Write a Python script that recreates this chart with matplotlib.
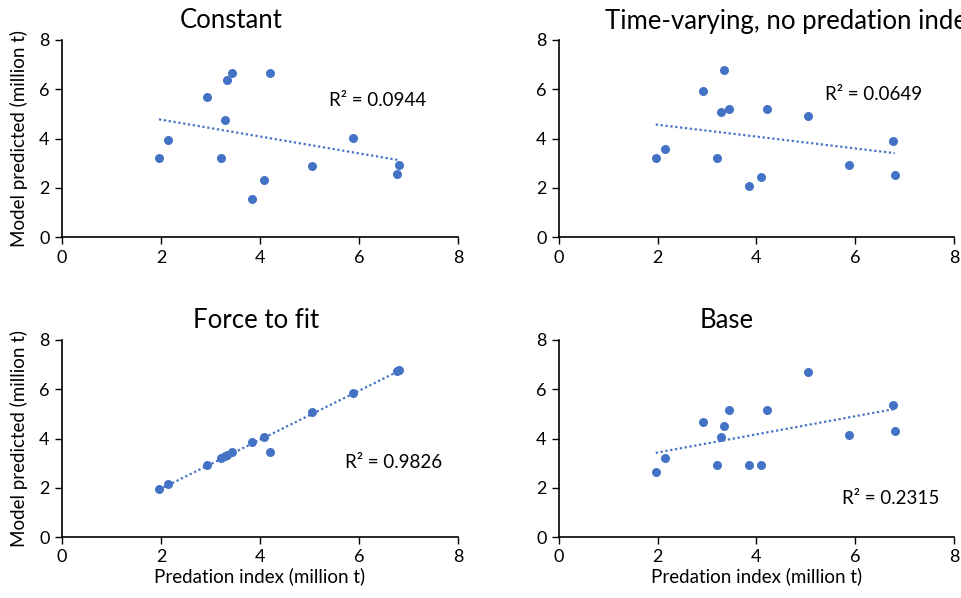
import numpy as np
import matplotlib
matplotlib.use("Agg")
import matplotlib.pyplot as plt

plt.rcParams['font.family'] = ['Lato', 'DejaVu Sans']

# Predation index (million t), shared across panels
predation = [1.96, 2.15, 2.92, 3.21, 3.29, 3.34, 3.44, 3.84, 4.09, 4.21, 5.05, 5.87, 6.76, 6.80]

constant_pred = [3.21, 3.93, 5.69, 3.21, 4.77, 6.37, 6.68, 1.56, 2.33, 6.68, 2.89, 4.04, 2.54, 2.91]
timevar_pred = [3.19, 3.57, 5.91, 3.19, 5.07, 6.78, 5.18, 2.09, 2.43, 5.18, 4.92, 2.94, 3.90, 2.50]
force_pred = [1.96, 2.17, 2.94, 3.19, 3.30, 3.35, 3.46, 3.84, 4.08, 3.46, 5.07, 5.86, 6.76, 6.80]
base_pred = [2.62, 3.22, 4.68, 2.93, 4.05, 4.51, 5.15, 2.92, 2.93, 5.15, 6.69, 4.15, 5.38, 4.32]

titles = ["Constant", "Time-varying, no predation index", "Force to fit", "Base"]
r2_labels = ["R² = 0.0944", "R² = 0.0649", "R² = 0.9826", "R² = 0.2315"]
ticks = [0, 2, 4, 6, 8]
xlabel = "Predation index (million t)"
ylabel = "Model predicted (million t)"

W, H = 962, 598
fig = plt.figure(figsize=(W / 100, H / 100), dpi=100)

def rect(x0, y0, x1, y1):
    return [x0 / W, 1 - y1 / H, (x1 - x0) / W, (y1 - y0) / H]

axes_px = [(62, 40, 458, 237), (559, 40, 954, 237), (62, 340, 458, 537), (559, 340, 954, 537)]
title_pos = [(231, 21, 'center'), (605, 21, 'left'), (256, 321, 'center'), (727, 321, 'center')]
r2_pos = [(378, 100), (874, 95), (394, 462), (891, 498)]

color = '#4472C4'
series = [constant_pred, timevar_pred, force_pred, base_pred]

for i, (ys, (x0, y0, x1, y1)) in enumerate(zip(series, axes_px)):
    ax = fig.add_axes(rect(x0, y0, x1, y1))
    x = np.array(predation)
    y = np.array(ys)
    ax.scatter(x, y, s=42, color=color, zorder=3, linewidths=0)
    m, b = np.polyfit(x, y, 1)
    xl = np.array([x.min(), x.max()])
    ax.plot(xl, m * xl + b, linestyle=(0, (1, 1.2)), color=color, linewidth=1.6, zorder=2)
    ax.set_xlim(0, 8)
    ax.set_ylim(0, 8)
    ax.set_xticks(ticks)
    ax.set_yticks(ticks)
    ax.tick_params(axis='both', labelsize=13, length=5, width=1, color='black', direction='out', pad=4)
    for side in ['top', 'right']:
        ax.spines[side].set_visible(False)
    for side in ['left', 'bottom']:
        ax.spines[side].set_linewidth(1.2)
        ax.spines[side].set_color('black')
    if i % 2 == 0:
        ax.set_ylabel(ylabel, fontsize=13.5)
        ax.yaxis.set_label_coords(-0.085, 0.5)
    if i >= 2:
        ax.set_xlabel(xlabel, fontsize=13.5, labelpad=1)
    tx, ty, ha = title_pos[i]
    fig.text(tx / W, 1 - ty / H, titles[i], fontsize=18.5, ha=ha, va='center')
    rx, ry = r2_pos[i]
    fig.text(rx / W, 1 - ry / H, r2_labels[i], fontsize=13.5, ha='center', va='center')

fig.savefig("out.png", dpi=100)
